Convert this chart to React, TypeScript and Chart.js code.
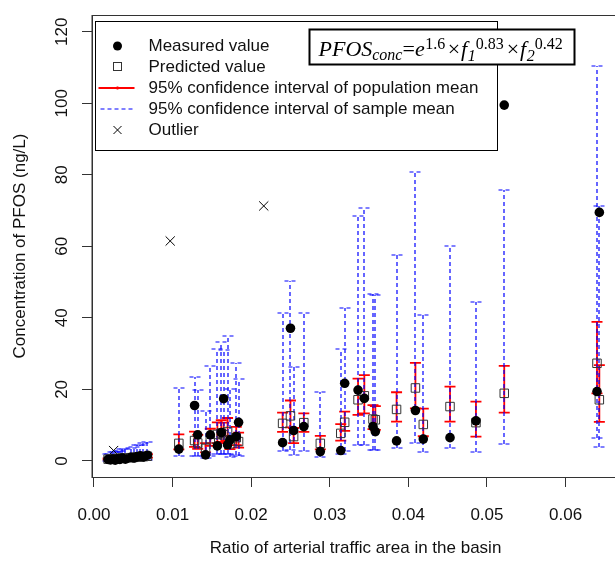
import React, { useEffect, useRef } from 'react';
import { Chart, registerables } from 'chart.js';

Chart.register(...registerables);

// ---------- data ----------
const siteX = [
  0.0018, 0.0021, 0.0024, 0.0027, 0.0030, 0.0033, 0.0036, 0.0040, 0.0047, 0.0051, 0.0055, 0.0059, 0.0063, 0.0068,
  0.0108, 0.0128, 0.0132, 0.0142, 0.0148, 0.0157, 0.0162, 0.0165, 0.0170, 0.0173, 0.0181, 0.0184,
  0.0240, 0.0250, 0.0254, 0.0267, 0.0288, 0.0314, 0.0319, 0.0336, 0.0344, 0.0355, 0.0358, 0.0385, 0.0409, 0.0419,
  0.0453, 0.0486, 0.0522, 0.0640, 0.0643,
];
const measured = [
  0.4, 0.3, 0.5, 0.2, 0.6, 0.4, 0.8, 0.5, 1.0, 0.8, 1.2, 1.4, 1.1, 1.6,
  3.3, 15.5, 7.3, 1.7, 7.3, 4.2, 7.9, 17.4, 4.5, 5.9, 6.8, 10.8,
  5.1, 37.1, 8.5, 9.6, 2.6, 2.9, 21.7, 19.8, 17.5, 9.6, 8.2, 5.6, 14.1, 6.1,
  6.5, 11.2, 99.5, 19.4, 69.5,
];
const predicted = [
  0.5, 0.5, 0.6, 0.6, 0.7, 0.7, 0.8, 0.8, 0.9, 1.0, 1.1, 1.1, 1.2, 1.3,
  4.9, 5.7, 5.0, 3.5, 6.2, 7.4, 7.8, 7.3, 8.2, 4.8, 6.5, 5.4,
  10.5, 12.6, 6.8, 10.7, 4.9, 7.7, 10.8, 17.1, 18.2, 11.7, 11.5, 14.4, 20.4, 10.2,
  15.2, 10.7, 18.9, 27.3, 17.1,
];
const popLow = [
  0.35, 0.35, 0.4, 0.4, 0.5, 0.5, 0.55, 0.55, 0.6, 0.7, 0.75, 0.75, 0.8, 0.9,
  3.2, 3.9, 3.4, 2.4, 4.2, 5.0, 5.3, 5.0, 5.6, 3.3, 4.4, 3.7,
  8.1, 9.4, 5.0, 8.1, 3.2, 5.7, 8.4, 12.9, 13.3, 8.9, 8.7, 11.0, 14.7, 6.9,
  11.0, 6.8, 13.5, 18.9, 10.9,
];
const popHigh = [
  0.7, 0.7, 0.85, 0.85, 1.0, 1.0, 1.15, 1.15, 1.3, 1.4, 1.6, 1.6, 1.7, 1.9,
  7.4, 8.2, 7.3, 5.0, 9.0, 10.8, 11.4, 10.7, 12.0, 7.0, 9.5, 7.9,
  13.5, 16.9, 9.2, 13.3, 7.0, 10.3, 13.8, 23.0, 24.0, 15.6, 15.3, 19.2, 27.4, 14.6,
  20.8, 16.6, 26.6, 38.9, 26.8,
];
const sampleLow = [
  0.1, 0.1, 0.15, 0.15, 0.17, 0.17, 0.2, 0.2, 0.22, 0.25, 0.27, 0.27, 0.3, 0.32,
  1.5, 1.5, 1.3, 0.9, 1.5, 1.8, 1.9, 1.8, 2.0, 1.2, 1.6, 1.3,
  2.8, 3.1, 1.7, 2.8, 1.2, 2.0, 2.8, 4.4, 4.4, 3.1, 3.0, 3.7, 5.0, 2.6,
  3.7, 2.4, 4.6, 6.5, 4.0,
];
const sampleHigh = [
  2.0, 2.0, 2.4, 2.4, 2.8, 2.8, 3.2, 3.2, 3.5, 4.0, 4.4, 4.4, 4.9, 5.4,
  20.3, 23.4, 19.8, 14.0, 26.6, 31.3, 33.2, 31.0, 35.0, 20.1, 27.5, 22.8,
  41.3, 50.4, 26.4, 41.3, 19.4, 31.2, 42.7, 68.5, 70.8, 46.7, 46.4, 57.6, 80.9, 40.8,
  60.2, 44.5, 75.7, 110.5, 71.4,
];
const outlierX = [0.0025, 0.0097, 0.0216];
const outlierY = [2.9, 61.5, 71.3];

const xTicks = [0, 0.01, 0.02, 0.03, 0.04, 0.05, 0.06];
const yTicks = [0, 20, 40, 60, 80, 100, 120];

const legendLabels = [
  'Measured value',
  'Predicted value',
  '95% confidence interval of population mean',
  '95% confidence interval of sample mean',
  'Outlier',
];
const xTitle = 'Ratio of arterial traffic area in the basin';
const yTitle = 'Concentration of PFOS (ng/L)';

// ---------- styles ----------
const SANS = "'Liberation Sans', Arial, sans-serif";
const SERIF = "'Liberation Serif', 'Times New Roman', serif";
const TEXT = '#111';
const RED = '#ff0000';
const BLUE = '#0000ff';

const errorBarPlugin = {
  id: 'errorBars',
  beforeDatasetsDraw(chart: any) {
    const { ctx, chartArea, scales } = chart;
    const xs = scales.x;
    const ys = scales.y;
    ctx.save();
    ctx.beginPath();
    ctx.rect(chartArea.left, chartArea.top, chartArea.right - chartArea.left, chartArea.bottom - chartArea.top);
    ctx.clip();
    // population-mean intervals (red, solid)
    ctx.strokeStyle = RED;
    ctx.lineWidth = 1.8;
    ctx.setLineDash([]);
    for (let i = 0; i < siteX.length; i++) {
      const px = xs.getPixelForValue(siteX[i]);
      const lo = ys.getPixelForValue(popLow[i]);
      const hi = ys.getPixelForValue(popHigh[i]);
      ctx.beginPath();
      ctx.moveTo(px, lo);
      ctx.lineTo(px, hi);
      ctx.moveTo(px - 5.5, lo);
      ctx.lineTo(px + 5.5, lo);
      ctx.moveTo(px - 5.5, hi);
      ctx.lineTo(px + 5.5, hi);
      ctx.stroke();
    }
    // sample-mean intervals (blue, dashed), soft 2-px rendering like the original
    ctx.strokeStyle = BLUE;
    ctx.lineWidth = 1.2;
    ctx.setLineDash([4, 3]);
    for (let i = 0; i < siteX.length; i++) {
      const px = Math.round(xs.getPixelForValue(siteX[i]));
      const lo = Math.round(ys.getPixelForValue(sampleLow[i]));
      const hi = Math.round(ys.getPixelForValue(sampleHigh[i]));
      ctx.beginPath();
      ctx.moveTo(px, lo);
      ctx.lineTo(px, hi);
      ctx.stroke();
      ctx.beginPath();
      ctx.moveTo(px - 5.5, lo);
      ctx.lineTo(px + 5.5, lo);
      ctx.moveTo(px - 5.5, hi);
      ctx.lineTo(px + 5.5, hi);
      ctx.stroke();
    }
    ctx.restore();
  },
};

const frameLegendPlugin = {
  id: 'frameLegend',
  afterDatasetsDraw(chart: any) {
    const { ctx, chartArea } = chart;
    ctx.save();
    // plot frame
    ctx.strokeStyle = '#333';
    ctx.lineWidth = 1;
    ctx.setLineDash([]);
    ctx.strokeRect(chartArea.left, chartArea.top + 0.5, chartArea.right - chartArea.left, chartArea.bottom - chartArea.top);

    // legend box
    const lx = chartArea.left + 3.5;
    const ly = chartArea.top + 6.5;
    const lw = 402;
    const lh = 129;
    ctx.fillStyle = '#fff';
    ctx.fillRect(lx, ly, lw, lh);
    ctx.strokeStyle = '#000';
    ctx.strokeRect(lx, ly, lw, lh);
    const symX = lx + 22;
    const txtX = lx + 53;
    ctx.font = `17px ${SANS}`;
    ctx.textBaseline = 'middle';
    ctx.textAlign = 'left';
    legendLabels.forEach((label, i) => {
      const cy = ly + 24.5 + i * 21;
      ctx.fillStyle = TEXT;
      ctx.fillText(label, txtX, cy);
      if (i === 0) {
        ctx.fillStyle = '#000';
        ctx.beginPath();
        ctx.arc(symX, cy, 4.5, 0, Math.PI * 2);
        ctx.fill();
      } else if (i === 1) {
        ctx.strokeStyle = '#333';
        ctx.lineWidth = 1;
        ctx.strokeRect(Math.round(symX) - 4.5, Math.round(cy) - 4.5, 8, 8);
      } else if (i === 2) {
        ctx.strokeStyle = RED;
        ctx.lineWidth = 1.8;
        ctx.beginPath();
        ctx.moveTo(lx + 3, cy);
        ctx.lineTo(lx + 39, cy);
        ctx.moveTo(symX, cy - 1.5);
        ctx.lineTo(symX, cy + 1.5);
        ctx.stroke();
      } else if (i === 3) {
        ctx.strokeStyle = BLUE;
        ctx.lineWidth = 1.2;
        ctx.setLineDash([4, 3]);
        ctx.beginPath();
        ctx.moveTo(lx + 5, Math.round(cy));
        ctx.lineTo(lx + 39, Math.round(cy));
        ctx.stroke();
        ctx.setLineDash([]);
      } else {
        ctx.strokeStyle = '#000';
        ctx.lineWidth = 1;
        ctx.beginPath();
        ctx.moveTo(symX - 4, cy - 4);
        ctx.lineTo(symX + 4, cy + 4);
        ctx.moveTo(symX + 4, cy - 4);
        ctx.lineTo(symX - 4, cy + 4);
        ctx.stroke();
      }
    });

    // formula box
    const fx = chartArea.left + 217.5;
    const fy = chartArea.top + 14.5;
    ctx.fillStyle = '#fff';
    ctx.fillRect(fx, fy, 265, 35);
    ctx.strokeStyle = '#000';
    ctx.lineWidth = 2;
    ctx.strokeRect(fx, fy, 265, 35);
    const base = fy + 26;
    const big = 22;
    const small = 16;
    const parts: [string, string, number, number][] = [
      ['PFOS', `italic ${big}px ${SERIF}`, 0, 0],
      ['conc', `italic ${small}px ${SERIF}`, 4.5, 0],
      ['=', `${big}px ${SERIF}`, 0, 0],
      ['e', `italic ${big}px ${SERIF}`, 0, 0.5],
      ['1.6', `${small}px ${SERIF}`, -7, 2.5],
      ['\u00d7', `${big}px ${SERIF}`, 0, 1],
      ['f', `italic ${big}px ${SERIF}`, 0, 0.5],
      ['1', `italic ${small}px ${SERIF}`, 5, 0],
      ['0.83', `${small}px ${SERIF}`, -7, 3],
      ['\u00d7', `${big}px ${SERIF}`, 0, 1],
      ['f', `italic ${big}px ${SERIF}`, 0, 0.5],
      ['2', `italic ${small}px ${SERIF}`, 5, 0],
      ['0.42', `${small}px ${SERIF}`, -7, 0],
    ];
    let cx = fx + 9;
    ctx.fillStyle = '#000';
    ctx.textBaseline = 'alphabetic';
    for (const [t, f, dy, gap] of parts) {
      ctx.font = f;
      ctx.fillText(t, cx, base + dy);
      cx += ctx.measureText(t).width + gap;
    }
    ctx.restore();
  },
};

export default function App() {
  const canvasRef = useRef<HTMLCanvasElement | null>(null);

  useEffect(() => {
    const canvas = canvasRef.current;
    if (!canvas) return;
    const tickFont = { family: SANS, size: 17 };
    const chart = new Chart(canvas, {
      type: 'scatter',
      data: {
        datasets: [
          {
            label: legendLabels[0],
            data: siteX.map((x, i) => ({ x, y: measured[i] })),
            pointStyle: 'circle',
            pointRadius: 4.8,
            backgroundColor: '#000',
            borderColor: '#000',
            borderWidth: 0,
          },
          {
            label: legendLabels[1],
            data: siteX.map((x, i) => ({ x, y: predicted[i] })),
            pointStyle: 'rect',
            pointRadius: 6,
            backgroundColor: 'rgba(0,0,0,0)',
            borderColor: '#333',
            borderWidth: 1,
          },
          {
            label: legendLabels[4],
            data: outlierX.map((x, i) => ({ x, y: outlierY[i] })),
            pointStyle: 'crossRot',
            pointRadius: 6.5,
            backgroundColor: '#000',
            borderColor: '#000',
            borderWidth: 1,
          },
        ],
      },
      options: {
        animation: false,
        responsive: false,
        devicePixelRatio: 1,
        layout: { padding: { top: 15, right: 21, left: 0, bottom: 0 } },
        plugins: { legend: { display: false }, tooltip: { enabled: false } },
        scales: {
          x: {
            type: 'linear',
            min: -0.00025,
            max: 0.0668,
            afterBuildTicks: (s: any) => {
              s.ticks = xTicks.map((v) => ({ value: v }));
            },
            afterFit: (s: any) => {
              s.height = 88;
              s.paddingLeft = 0;
              s.paddingRight = 0;
            },
            grid: { display: true, drawOnChartArea: false, drawTicks: true, tickLength: 10, color: '#333' },
            border: { display: true, color: '#333' },
            ticks: {
              font: tickFont,
              color: TEXT,
              padding: 18.5,
              maxRotation: 0,
              autoSkip: false,
              callback: (v: any) => Number(v).toFixed(2),
            },
            title: { display: true, text: xTitle, font: tickFont, color: TEXT, padding: { top: 0, bottom: 6 } },
          },
          y: {
            type: 'linear',
            min: -4.5,
            max: 124.7,
            afterBuildTicks: (s: any) => {
              s.ticks = yTicks.map((v) => ({ value: v }));
            },
            afterFit: (s: any) => {
              s.width = 92;
              s.paddingTop = 0;
              s.paddingBottom = 0;
            },
            grid: { display: true, drawOnChartArea: false, drawTicks: true, tickLength: 10, color: '#333' },
            border: { display: true, color: '#333' },
            ticks: {
              font: tickFont,
              color: TEXT,
              padding: 5.5,
              minRotation: 90,
              maxRotation: 90,
              crossAlign: 'center',
              autoSkip: false,
              callback: (v: any) => String(v),
            },
            title: { display: true, text: yTitle, font: tickFont, color: TEXT, padding: { top: 10, bottom: 0 } },
          },
        },
      },
      plugins: [errorBarPlugin, frameLegendPlugin],
    } as any);
    return () => chart.destroy();
  }, []);

  return (
    <div style={{ position: 'fixed', left: 0, top: 0, width: 640, height: 565, background: '#fff' }}>
      <canvas ref={canvasRef} width={640} height={565} style={{ display: 'block' }} />
    </div>
  );
}
